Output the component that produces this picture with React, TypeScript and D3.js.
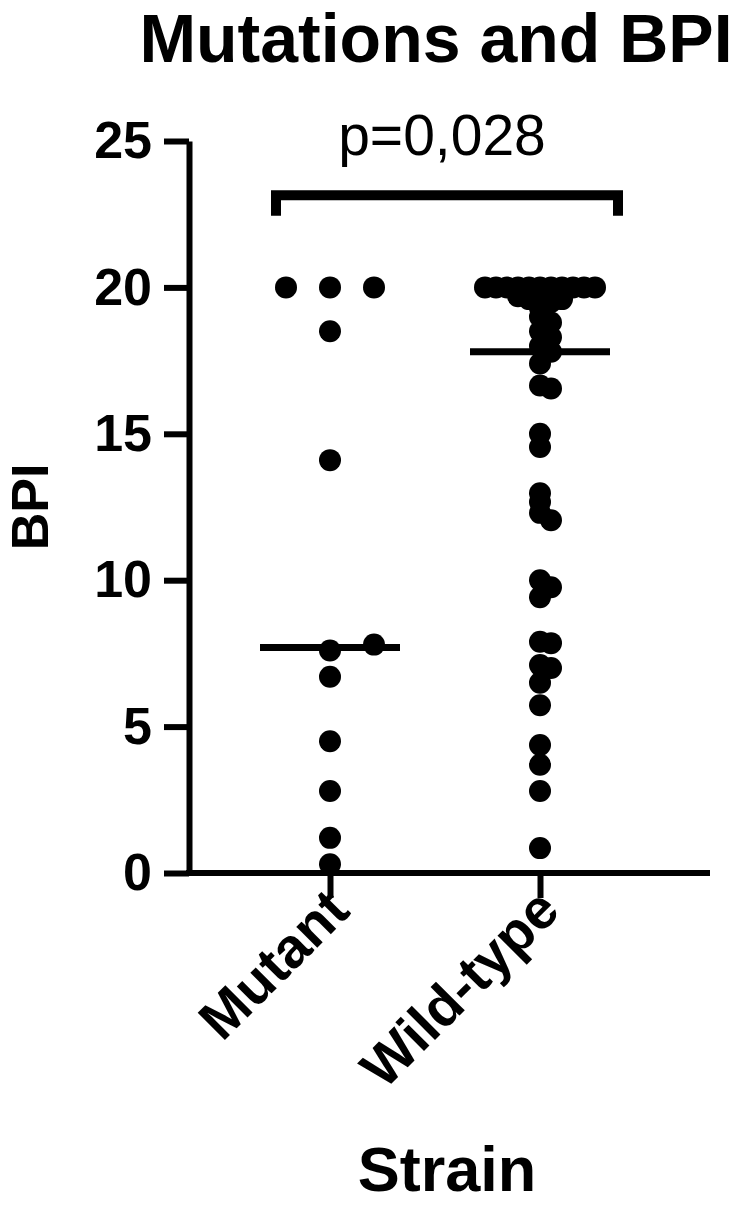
import React, { useEffect, useRef } from "react";
import * as d3 from "d3";

const categories = ["Mutant", "Wild-type"];

const mutantBPI = [20, 20, 20, 18.5, 14.1, 7.6, 7.8, 6.7, 4.5, 2.8, 1.2, 0.3];

const wildTypeBPI = [
  20, 20, 20, 20, 20, 20, 20, 20, 20, 20, 20,
  19.7, 19.6, 19.7, 19.5, 19.6,
  19.3, 19.0, 18.8, 18.5, 18.3, 18.0, 17.8, 17.4,
  16.65, 16.55, 15.0, 14.55, 12.97, 12.67, 12.3, 12.05,
  10.0, 9.76, 9.42, 7.9, 7.85, 7.1, 7.0, 6.5, 5.73, 4.37, 3.7, 2.8, 0.85,
];

const yTicks = [0, 5, 10, 15, 20, 25];
const pValueLabel = "p=0,028";

const FONT = "'Liberation Sans', Arial, Helvetica, sans-serif";

// prism-like scatter: group points into rows, spread each row around the centre
function spreadOffsets(values: number[], y: d3.ScaleLinear<number, number>, rowH: number, spacing: number) {
  const order = d3.range(values.length).sort((a, b) => values[b] - values[a] || a - b);
  const offsets = new Array(values.length).fill(0);
  let row: number[] = [];
  let rowStart = 0;
  const flush = () => {
    const sorted = row.slice().sort((a, b) => a - b);
    const shift = Math.floor((sorted.length - 1) / 2);
    sorted.forEach((idx, i) => {
      offsets[idx] = (i - shift) * spacing;
    });
    row = [];
  };
  order.forEach((idx) => {
    const py = y(values[idx]);
    if (row.length && py - rowStart >= rowH) flush();
    if (!row.length) rowStart = py;
    row.push(idx);
  });
  if (row.length) flush();
  return offsets;
}

const App = () => {
  const svgRef = useRef<SVGSVGElement>(null);

  useEffect(() => {
    const svg = d3.select(svgRef.current);
    svg.selectAll("*").remove();

    const axisX = 189;
    const axisRight = 710;

    const y = d3.scaleLinear().domain([0, 25]).range([873, 141]);
    const x = d3.scalePoint<string>().domain(categories).range([330, 540]);

    const groups = [
      { name: categories[0], values: mutantBPI, spacing: 44 },
      { name: categories[1], values: wildTypeBPI, spacing: 11 },
    ];

    // title
    svg
      .append("text")
      .attr("x", 436)
      .attr("y", 62)
      .attr("text-anchor", "middle")
      .style("font-family", FONT)
      .style("font-weight", "bold")
      .style("font-size", "68px")
      .text("Mutations and BPI");

    // y axis
    const yAxis = svg
      .append("g")
      .attr("transform", `translate(${axisX},0)`)
      .call(d3.axisLeft(y).tickValues(yTicks).tickSize(25).tickSizeOuter(0).tickPadding(12));
    yAxis.select(".domain").attr("stroke", "#000").attr("stroke-width", 6);
    yAxis.selectAll(".tick line").attr("stroke", "#000").attr("stroke-width", 6);
    yAxis
      .selectAll(".tick text")
      .attr("fill", "#000")
      .style("font-family", FONT)
      .style("font-weight", "bold")
      .style("font-size", "52px");

    // x axis
    const xAxis = svg
      .append("g")
      .attr("transform", `translate(0,${y(0)})`)
      .call(d3.axisBottom(x).tickSize(25).tickSizeOuter(0).tickFormat(() => ""));
    xAxis.select(".domain").remove();
    xAxis.selectAll(".tick line").attr("stroke", "#000").attr("stroke-width", 6);
    xAxis
      .append("line")
      .attr("x1", axisX - 3)
      .attr("x2", axisRight)
      .attr("y1", 0)
      .attr("y2", 0)
      .attr("stroke", "#000")
      .attr("stroke-width", 6);

    // category labels, rotated
    svg
      .selectAll(".cat-label")
      .data(categories)
      .enter()
      .append("text")
      .attr("class", "cat-label")
      .attr("transform", (d) => `translate(${(x(d) as number) + 22},${y(0) + 40}) rotate(-45)`)
      .attr("text-anchor", "end")
      .style("font-family", FONT)
      .style("font-weight", "bold")
      .style("font-size", "56px")
      .text((d) => d);

    // axis titles
    svg
      .append("text")
      .attr("transform", `translate(48,${(y(0) + y(25)) / 2}) rotate(-90)`)
      .attr("text-anchor", "middle")
      .style("font-family", FONT)
      .style("font-weight", "bold")
      .style("font-size", "52px")
      .text("BPI");

    svg
      .append("text")
      .attr("x", 447)
      .attr("y", 1191)
      .attr("text-anchor", "middle")
      .style("font-family", FONT)
      .style("font-weight", "bold")
      .style("font-size", "63px")
      .text("Strain");

    // points
    groups.forEach((g) => {
      const offsets = spreadOffsets(g.values, y, 8, g.spacing);
      const cx = x(g.name) as number;
      svg
        .append("g")
        .selectAll("circle")
        .data(g.values)
        .enter()
        .append("circle")
        .attr("cx", (d, i) => cx + offsets[i])
        .attr("cy", (d) => y(d))
        .attr("r", 11)
        .attr("fill", "#000");

      const med = d3.median(g.values) as number;
      svg
        .append("line")
        .attr("x1", cx - 70)
        .attr("x2", cx + 70)
        .attr("y1", y(med))
        .attr("y2", y(med))
        .attr("stroke", "#000")
        .attr("stroke-width", 7);
    });

    // significance bracket
    const bx1 = 276;
    const bx2 = 618;
    svg
      .append("path")
      .attr("d", `M${bx1},${y(22.45)}V${y(23.15)}H${bx2}V${y(22.45)}`)
      .attr("fill", "none")
      .attr("stroke", "#000")
      .attr("stroke-width", 10);

    svg
      .append("text")
      .attr("x", 442)
      .attr("y", 155)
      .attr("text-anchor", "middle")
      .style("font-family", FONT)
      .style("font-size", "57px")
      .text(pValueLabel);
  }, []);

  return (
    <svg
      ref={svgRef}
      width={738}
      height={1210}
      style={{ position: "absolute", left: 0, top: 0, background: "#fff" }}
    ></svg>
  );
};

export default App;
